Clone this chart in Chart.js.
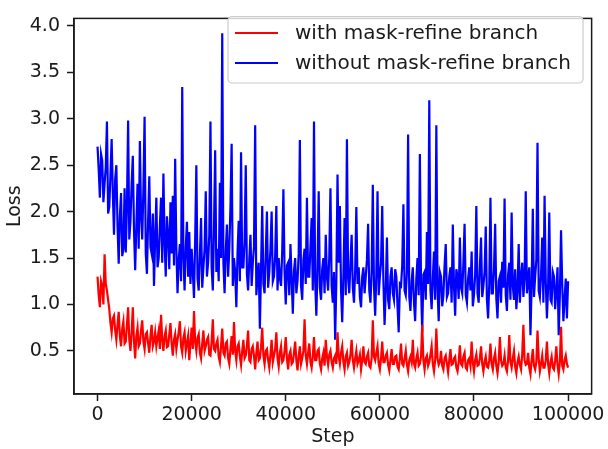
<!DOCTYPE html>
<html>
<head>
<meta charset="utf-8">
<script src="https://cdn.jsdelivr.net/npm/chart.js@4"></script>
<style>
  body { margin: 0; background: #fff; }
  #wrap { width: 608px; height: 449px; }
</style>
</head>
<body>
<div id="wrap"><canvas id="lossChart" width="608" height="449"></canvas></div>
<script>
// training step for every logged loss value (one point per 250 steps)
var steps = Array.from({length: 401}, function(_, i) { return i * 250; });

var lossWithRefine = [
  1.30, 1.10, 0.97, 1.25, 1.20, 1.00, 1.54, 1.22, 1.15, 1.05,
  0.95, 0.80, 0.70, 0.85, 0.88, 0.72, 0.62, 0.78, 0.92, 0.66,
  0.55, 0.74, 0.82, 0.58, 0.60, 0.78, 0.97, 0.62, 0.50, 0.70,
  0.97, 0.60, 0.42, 0.66, 0.75, 0.55, 0.58, 0.72, 0.83, 0.60,
  0.52, 0.68, 0.70, 0.58, 0.48, 0.66, 0.78, 0.55, 0.60, 0.70,
  0.55, 0.64, 0.72, 0.52, 0.89, 0.62, 0.50, 0.66, 0.72, 0.54,
  0.55, 0.68, 0.80, 0.58, 0.45, 0.62, 0.68, 0.52, 0.62, 0.70,
  0.82, 0.55, 0.48, 0.64, 0.70, 0.50, 0.58, 0.66, 0.40, 0.58,
  0.75, 0.52, 0.93, 0.60, 0.50, 0.64, 0.68, 0.48, 0.42, 0.58,
  0.72, 0.50, 0.55, 0.62, 0.65, 0.46, 0.45, 0.60, 0.84, 0.52,
  0.50, 0.58, 0.62, 0.44, 0.38, 0.55, 0.74, 0.48, 0.45, 0.58,
  0.60, 0.42, 0.36, 0.52, 0.66, 0.46, 0.81, 0.50, 0.40, 0.55,
  0.58, 0.44, 0.35, 0.50, 0.62, 0.42, 0.45, 0.56, 0.72, 0.40,
  0.38, 0.52, 0.55, 0.45, 0.30, 0.48, 0.60, 0.40, 0.42, 0.54,
  0.75, 0.45, 0.36, 0.50, 0.52, 0.40, 0.32, 0.46, 0.62, 0.38,
  0.45, 0.52, 0.70, 0.42, 0.33, 0.48, 0.55, 0.38, 0.40, 0.50,
  0.65, 0.42, 0.30, 0.46, 0.50, 0.36, 0.38, 0.48, 0.60, 0.40,
  0.29, 0.44, 0.55, 0.36, 0.42, 0.50, 0.84, 0.45, 0.36, 0.48,
  0.58, 0.38, 0.32, 0.44, 0.65, 0.40, 0.40, 0.50, 0.52, 0.36,
  0.30, 0.42, 0.48, 0.34, 0.62, 0.44, 0.35, 0.46, 0.50, 0.38,
  0.32, 0.42, 0.45, 0.36, 0.70, 0.44, 0.36, 0.48, 0.55, 0.38,
  0.30, 0.44, 0.48, 0.34, 0.38, 0.46, 0.62, 0.40, 0.32, 0.42,
  0.50, 0.36, 0.40, 0.46, 0.30, 0.40, 0.55, 0.38, 0.36, 0.44,
  0.48, 0.34, 0.32, 0.42, 0.83, 0.44, 0.40, 0.48, 0.55, 0.36,
  0.30, 0.42, 0.60, 0.38, 0.38, 0.45, 0.48, 0.35, 0.29, 0.40,
  0.52, 0.36, 0.36, 0.44, 0.45, 0.33, 0.30, 0.42, 0.58, 0.36,
  0.34, 0.42, 0.50, 0.35, 0.28, 0.40, 0.44, 0.38, 0.62, 0.36,
  0.32, 0.42, 0.48, 0.34, 0.36, 0.44, 0.78, 0.40, 0.30, 0.42,
  0.45, 0.34, 0.38, 0.46, 0.55, 0.36, 0.28, 0.40, 0.74, 0.42,
  0.35, 0.38, 0.50, 0.34, 0.30, 0.42, 0.45, 0.36, 0.27, 0.40,
  0.52, 0.35, 0.36, 0.42, 0.44, 0.32, 0.28, 0.38, 0.56, 0.36,
  0.34, 0.44, 0.48, 0.32, 0.30, 0.40, 0.42, 0.34, 0.60, 0.38,
  0.28, 0.40, 0.46, 0.34, 0.35, 0.42, 0.55, 0.36, 0.28, 0.38,
  0.44, 0.33, 0.32, 0.40, 0.58, 0.36, 0.30, 0.42, 0.48, 0.34,
  0.26, 0.38, 0.65, 0.40, 0.34, 0.36, 0.45, 0.32, 0.28, 0.40,
  0.67, 0.38, 0.32, 0.42, 0.50, 0.33, 0.26, 0.38, 0.44, 0.35,
  0.30, 0.46, 0.78, 0.40, 0.35, 0.36, 0.48, 0.32, 0.25, 0.40,
  0.52, 0.34, 0.30, 0.38, 0.72, 0.42, 0.28, 0.36, 0.45, 0.32,
  0.32, 0.40, 0.60, 0.36, 0.26, 0.38, 0.44, 0.32, 0.30, 0.40,
  0.55, 0.35, 0.25, 0.38, 0.76, 0.34, 0.30, 0.40, 0.45, 0.36,
  0.32
];

var lossWithoutRefine = [
  2.70, 2.45, 2.15, 2.62, 2.55, 2.10, 2.30, 2.48, 2.97, 1.98,
  2.05, 2.40, 2.78, 2.20, 1.75, 2.35, 2.50, 1.85, 1.44, 1.95,
  2.20, 1.52, 1.60, 2.25, 1.56, 2.05, 2.98, 1.70, 1.90, 2.30,
  2.60, 1.80, 1.37, 1.85, 2.30, 1.60, 2.76, 1.95, 1.70, 2.25,
  3.02, 1.55, 1.33, 1.90, 2.38, 1.62, 1.55, 1.98, 1.20, 1.72,
  2.15, 1.40, 1.50, 1.85, 2.15, 1.45, 2.41, 1.68, 1.30, 1.95,
  1.75, 1.38, 2.10, 1.55, 2.17, 1.42, 2.57, 1.60, 1.12, 1.48,
  1.65, 1.25, 3.34, 1.50, 1.15, 1.62, 1.89, 1.30, 1.78, 1.22,
  1.60, 1.35, 1.07, 1.70, 2.50, 1.28, 1.15, 1.52, 1.93, 1.18,
  1.40, 1.60, 2.22, 1.30, 1.45, 1.75, 2.97, 1.40, 1.15, 1.82,
  2.66, 1.35, 1.60, 1.25, 2.31, 1.50, 3.92, 1.45, 1.12, 1.58,
  1.86, 1.30, 1.60, 2.05, 2.73, 1.20, 1.50, 1.35, 0.97, 1.55,
  1.90, 1.25, 2.64, 1.40, 1.40, 1.68, 2.50, 1.32, 1.15, 1.48,
  1.75, 1.20, 1.45, 1.62, 2.93, 1.10, 1.30, 1.45, 0.74, 1.38,
  2.06, 1.22, 1.12, 1.55, 2.00, 1.18, 1.35, 1.60, 2.00, 1.25,
  1.30, 1.52, 2.06, 1.15, 1.50, 1.28, 1.20, 1.58, 2.24, 1.35,
  1.00, 1.42, 1.45, 1.10, 1.65, 1.28, 0.90, 1.36, 1.50, 1.12,
  1.25, 1.55, 2.77, 1.20, 1.05, 1.48, 1.60, 1.22, 2.15, 1.30,
  1.30, 1.62, 1.93, 1.15, 2.97, 1.25, 0.88, 1.40, 2.22, 1.18,
  1.05, 1.38, 1.50, 1.12, 1.75, 1.30, 1.15, 1.52, 2.25, 1.20,
  1.02, 1.35, 0.62, 1.25, 2.40, 1.45, 2.06, 1.15, 0.81, 1.32,
  1.93, 1.10, 2.78, 1.28, 1.12, 1.45, 1.75, 1.18, 1.02, 1.36,
  2.05, 1.22, 1.40, 1.08, 0.97, 1.30, 1.40, 1.12, 1.30, 1.48,
  1.87, 1.15, 1.02, 1.35, 2.29, 1.20, 0.88, 1.32, 2.22, 1.10,
  1.30, 1.45, 2.06, 1.25, 0.78, 1.15, 1.72, 1.05, 0.95, 1.30,
  1.40, 1.12, 1.05, 1.38, 1.30, 0.98, 0.70, 1.22, 1.20, 1.42,
  2.08, 1.15, 1.10, 1.35, 2.83, 1.08, 0.93, 1.25, 1.40, 1.02,
  0.82, 1.28, 1.50, 1.10, 2.62, 1.20, 0.70, 1.32, 1.35, 1.05,
  1.78, 1.22, 3.20, 1.15, 0.95, 1.28, 1.57, 1.05, 2.93, 1.18,
  0.82, 1.35, 1.30, 0.98, 1.10, 1.42, 1.65, 1.08, 1.12, 1.30,
  1.40, 1.02, 1.86, 1.20, 0.88, 1.38, 1.30, 1.06, 1.72, 1.18,
  1.12, 1.45, 1.87, 1.10, 1.02, 1.28, 1.40, 1.15, 1.57, 0.98,
  1.10, 1.32, 2.06, 1.12, 1.02, 1.40, 1.72, 1.08, 1.20, 1.35,
  1.84, 1.05, 0.85, 1.22, 2.15, 1.12, 1.12, 1.38, 1.87, 1.06,
  0.85, 1.25, 1.30, 1.02, 1.46, 1.18, 2.14, 1.10, 0.93, 1.32,
  1.45, 1.05, 1.99, 1.20, 1.05, 1.38, 0.95, 1.15, 1.65, 1.02,
  1.30, 1.45, 1.08, 1.28, 2.22, 1.12, 1.25, 1.40, 0.67, 1.20,
  2.03, 1.08, 1.30, 1.48, 2.74, 1.15, 1.08, 1.32, 1.72, 1.02,
  2.17, 1.25, 0.85, 1.18, 1.99, 1.05, 1.02, 1.35, 1.30, 0.95,
  1.15, 1.40, 0.67, 1.10, 1.80, 1.22, 0.82, 1.05, 1.28, 0.85,
  1.25
];

var xTicks = [0, 20000, 40000, 60000, 80000, 100000];
var yTicks = [0.5, 1.0, 1.5, 2.0, 2.5, 3.0, 3.5, 4.0];

var seriesNames = ['with mask-refine branch', 'without mask-refine branch'];
var seriesColors = ['#ff0000', '#0000ff'];

var ink = '#1a1a1a';
var tickFont = {family: 'DejaVu Sans', size: 19};

function toPoints(vals) {
  return vals.map(function(v, i) { return {x: steps[i], y: v}; });
}

// frame on all four sides + legend box inside the plot (matplotlib style)
var framePlugin = {
  id: 'frame',
  afterDraw: function(chart) {
    var ctx = chart.ctx, a = chart.chartArea;
    ctx.save();
    ctx.strokeStyle = ink;
    ctx.lineWidth = 1.5;
    ctx.strokeRect(a.left, a.top, a.right - a.left, a.bottom - a.top);

    // legend
    var bx = 228, by = 16.5, bw = 355, bh = 66.5, r = 4;
    ctx.beginPath();
    ctx.moveTo(bx + r, by);
    ctx.arcTo(bx + bw, by, bx + bw, by + bh, r);
    ctx.arcTo(bx + bw, by + bh, bx, by + bh, r);
    ctx.arcTo(bx, by + bh, bx, by, r);
    ctx.arcTo(bx, by, bx + bw, by, r);
    ctx.closePath();
    ctx.fillStyle = 'rgba(255,255,255,0.8)';
    ctx.fill();
    ctx.strokeStyle = '#cccccc';
    ctx.lineWidth = 1.2;
    ctx.stroke();

    ctx.font = '20px "DejaVu Sans"';
    ctx.textBaseline = 'middle';
    ctx.textAlign = 'left';
    for (var k = 0; k < seriesNames.length; k++) {
      var ly = 33 + k * 30;
      ctx.strokeStyle = seriesColors[k];
      ctx.lineWidth = 2.2;
      ctx.beginPath();
      ctx.moveTo(235, ly);
      ctx.lineTo(278, ly);
      ctx.stroke();
      ctx.fillStyle = ink;
      ctx.fillText(seriesNames[k], 295, ly + 1);
    }
    ctx.restore();
  }
};

new Chart(document.getElementById('lossChart').getContext('2d'), {
  type: 'line',
  data: {
    datasets: [
      {label: seriesNames[0], data: toPoints(lossWithRefine), borderColor: seriesColors[0], borderWidth: 2.2, pointRadius: 0, tension: 0, fill: false},
      {label: seriesNames[1], data: toPoints(lossWithoutRefine), borderColor: seriesColors[1], borderWidth: 2.2, pointRadius: 0, tension: 0, fill: false}
    ]
  },
  options: {
    responsive: false,
    animation: false,
    layout: {padding: {top: 7, right: 14, left: 0, bottom: 0}},
    plugins: {legend: {display: false}, tooltip: {enabled: false}},
    scales: {
      x: {
        type: 'linear',
        min: -5000,
        max: 105000,
        afterBuildTicks: function(s) { s.ticks = xTicks.map(function(v) { return {value: v}; }); },
        afterFit: function(s) { s.height = 55; },
        ticks: {
          callback: function(v) { return String(v); },
          font: tickFont, color: ink, padding: 3, maxRotation: 0, autoSkip: false
        },
        grid: {drawOnChartArea: false, drawTicks: true, tickLength: 7, tickColor: ink, tickWidth: 1.5},
        border: {display: true, color: ink, width: 1.5},
        title: {display: true, text: 'Step', font: tickFont, color: ink, padding: {top: 0, bottom: 1}}
      },
      y: {
        type: 'linear',
        min: 0.036,
        max: 4.08,
        afterBuildTicks: function(s) { s.ticks = yTicks.map(function(v) { return {value: v}; }); },
        afterFit: function(s) { s.width = 74; },
        ticks: {
          callback: function(v) { return v.toFixed(1); },
          font: tickFont, color: ink, padding: 7, autoSkip: false
        },
        grid: {drawOnChartArea: false, drawTicks: true, tickLength: 7, tickColor: ink, tickWidth: 1.5},
        border: {display: true, color: ink, width: 1.5},
        title: {display: true, text: 'Loss', font: tickFont, color: ink, padding: {top: 4, bottom: 0}}
      }
    }
  },
  plugins: [framePlugin]
});
</script>
</body>
</html>
